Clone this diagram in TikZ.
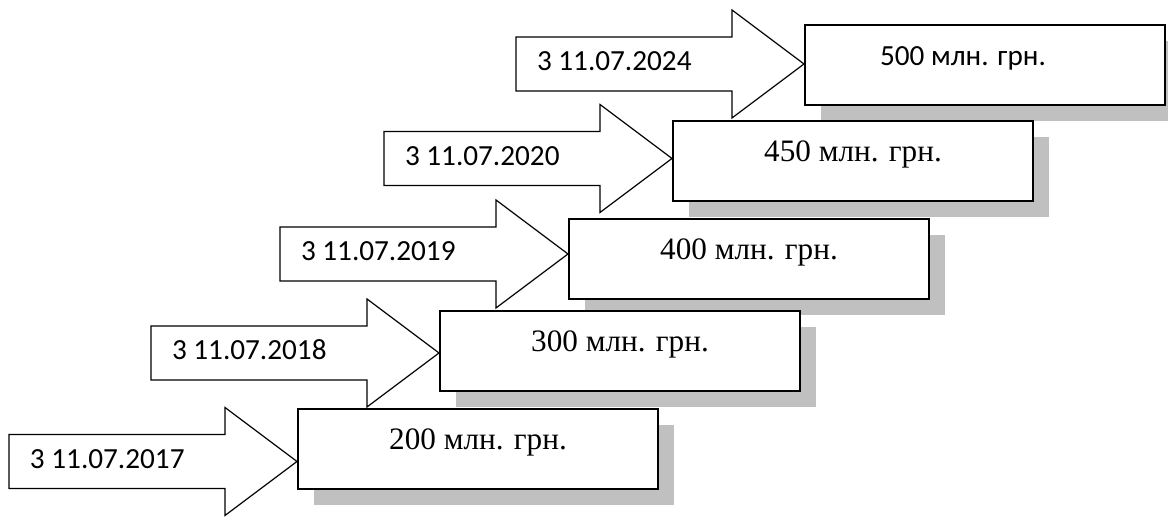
\documentclass[tikz,border=0pt]{standalone}
\usepackage{fontspec}
\setmainfont{Liberation Serif}
\newfontfamily\calibrifont{Carlito}
\usetikzlibrary{calc}
\usetikzlibrary{shadows}
\definecolor{shadowgray}{RGB}{192,192,192}
\newcommand{\boxwidth}{180pt}
\newcommand{\boxheight}{40pt}
\tikzstyle{arrowline}=[draw, fill=white, line width=0.6pt, line join=miter]
\tikzstyle{datelabel}=[inner sep=0, outer sep=0, font=\calibrifont\fontsize{14.6pt}{17pt}\selectfont]
\tikzstyle{valbox}=[draw, fill=white, line width=1pt, anchor=north west, inner sep=0,
                    minimum width=\boxwidth, minimum height=\boxheight,
                    text height=20.5pt, text depth=19.5pt,
                    font=\fontsize{15.6pt}{18pt}\selectfont,
                    drop shadow={shadow xshift=8pt, shadow yshift=-8pt, fill=shadowgray, opacity=1}]
\tikzstyle{valboxsans}=[valbox, font=\calibrifont\fontsize{14.6pt}{17pt}\selectfont]
% #1 tip, #2 label name, #3 label text
\newcommand{\datearrow}[3]{%
    \draw[arrowline] (#1) -- ++(-72,-54) -- ++(0,27) -- ++(-216,0) -- ++(0,54)
        -- ++(216,0) -- ++(0,27) -- cycle;
    \node[datelabel, anchor=base west] (#2) at ($(#1)+(-267,7)$) {#3};
}

\begin{document}
\begin{tikzpicture}[x=0.5pt, y=-0.5pt]
        \useasboundingbox (0,0) rectangle (1168,517);
        % arrow tips sit on the left edges of the boxes
        \coordinate (tip2017) at (297,461.5);
        \coordinate (tip2018) at (439,353);
        \coordinate (tip2019) at (568,254);
        \coordinate (tip2020) at (672,158.5);
        \coordinate (tip2024) at (804,64);
        \datearrow{tip2017}{d2017}{3 11.07.2017}
        \datearrow{tip2018}{d2018}{3 11.07.2018}
        \datearrow{tip2019}{d2019}{3 11.07.2019}
        \datearrow{tip2020}{d2020}{3 11.07.2020}
        \datearrow{tip2024}{d2024}{3 11.07.2024}
        \node[valboxsans] (v500) at (804,24)  {500 млн. грн.\hspace*{22pt}};
        \node[valbox]     (v450) at (672,120) {450 млн. грн.};
        \node[valbox]     (v400) at (568,218) {400 млн. грн.};
        \node[valbox]     (v300) at (439,310) {300 млн. грн.};
        \node[valbox]     (v200) at (297,408) {200 млн. грн.};
    \end{tikzpicture}
\end{document}
